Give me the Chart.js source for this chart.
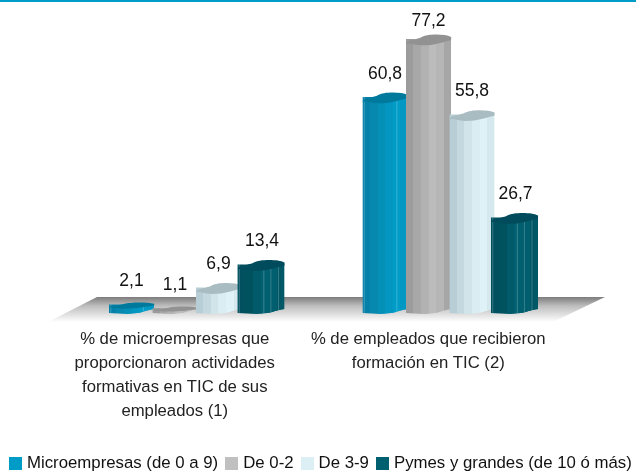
<!DOCTYPE html>
<html>
<head>
<meta charset="utf-8">
<style>
html, body { margin: 0; padding: 0; background: #fff; }
#wrap { width: 636px; height: 473px; position: relative; }
#legend { position: absolute; left: 9px; top: 454px; display: flex; gap: 7px; font: 16.8px "Liberation Sans", Arial, sans-serif; color: #111; white-space: nowrap; line-height: 18px; }
#legend span { display: flex; align-items: center; gap: 5px; }
#legend i { width: 13px; height: 13px; display: block; }
</style>
<script src="https://cdn.jsdelivr.net/npm/chart.js@4"></script>
</head>
<body>
<div id="wrap"><canvas id="myChart"></canvas><div id="legend"></div></div>
<script>
const categories = [
    ['% de microempresas que', 'proporcionaron actividades', 'formativas en TIC de sus', 'empleados (1)'],
    ['% de empleados que recibieron', 'formación en TIC (2)']
];
const seriesNames = ['Microempresas (de 0 a 9)', 'De 0-2', 'De 3-9', 'Pymes y grandes (de 10 ó más)'];
const micro = [2.1, 60.8];
const deZeroDos = [1.1, 77.2];
const deTresNueve = [6.9, 55.8];
const pymes = [13.4, 26.7];

const legendColors = ['#009cc8', '#c0c0c0', '#dceff5', '#006070'];
const capColors = ['#007a9c', '#929292', '#a9bcc2', '#004c5c'];
const stripes = [
    ['#0580a8', '#0788ae', '#0590b8', '#0396c0', '#009cc8', '#0098c2'],
    ['#9c9c9c', '#a8a8a8', '#b2b2b2', '#bcbcbc', '#b6b6b6', '#a6a6a6'],
    ['#b8ced6', '#c4d8df', '#d0e4ea', '#daedf3', '#def2f7', '#d4e8ee'],
    ['#005060', '#00525f', '#005a6a', '#006070', '#005e6e', '#005766']
];
const highlights = [[0.03, 0.75], [], [], [0.03, 0.55, 0.7, 0.86]];
const fontName = '"Liberation Sans", Arial, sans-serif';

seriesNames.forEach((name, i) => {
    const item = document.createElement('span');
    const box = document.createElement('i');
    box.style.background = legendColors[i];
    item.appendChild(box);
    item.appendChild(document.createTextNode(name));
    document.getElementById('legend').appendChild(item);
});

const cylinders = {
    id: 'cylinders',
    beforeDraw(chart) {
        const { ctx, width } = chart;
        ctx.fillStyle = '#009cc8';
        ctx.fillRect(0, 0, width, 2);
    },
    beforeDatasetsDraw(chart) {
        const { ctx, chartArea } = chart;
        const base = chart.scales.y.getPixelForValue(0);

        // floor
        const g = ctx.createLinearGradient(0, base - 16, 0, base + 9);
        g.addColorStop(0, '#7c7c7c');
        g.addColorStop(0.35, '#bdbdbd');
        g.addColorStop(1, '#ffffff');
        ctx.fillStyle = g;
        ctx.beginPath();
        ctx.moveTo(chartArea.left + 27, base - 16);
        ctx.lineTo(chartArea.right + 28, base - 16);
        ctx.lineTo(chartArea.right - 24, base + 9);
        ctx.lineTo(chartArea.left - 22, base + 9);
        ctx.closePath();
        ctx.fill();

        // later series sit on top of the earlier ones
        chart.data.datasets.forEach((ds, i) => {
            chart.getDatasetMeta(i).data.forEach((bar, j) => {
                const x1 = bar.x + bar.width * 0.52;
                const x0 = bar.x - bar.width * 0.52 - (i === 3 ? 2 : 0);
                const w = x1 - x0;
                const top = bar.y;
                const rise = Math.min(6, 2 + (base - top) * 0.2);

                ctx.save();
                ctx.beginPath();
                ctx.moveTo(x0, top - 1);
                ctx.lineTo(x1, top - 1);
                ctx.lineTo(x1, base - 4);
                ctx.bezierCurveTo(x1 - w * 0.2, base - 3, x1 - w * 0.3, base + 1, x0 + w * 0.4, base + 1);
                ctx.lineTo(x0, base);
                ctx.closePath();
                ctx.clip();
                bar.draw(ctx);
                const grad = ctx.createLinearGradient(x0, 0, x1, 0);
                stripes[i].forEach((c, k) => {
                    grad.addColorStop(k / stripes[i].length, c);
                    grad.addColorStop((k + 1) / stripes[i].length, c);
                });
                ctx.fillStyle = grad;
                ctx.fillRect(x0, top - 2, w, base - top + 6);
                ctx.fillStyle = 'rgba(255, 255, 255, 0.22)';
                highlights[i].forEach(f => {
                    ctx.fillRect(x0 + w * f, top - 2, 1, base - top + 6);
                });
                ctx.restore();

                // wavy cap
                ctx.fillStyle = capColors[i];
                ctx.beginPath();
                ctx.moveTo(x0, top + rise * 0.6);
                ctx.bezierCurveTo(x0 + w * 0.05, top - rise * 0.2, x0 + w * 0.25, top, x0 + w * 0.35, top - rise * 0.5);
                ctx.bezierCurveTo(x0 + w * 0.45, top - rise, x0 + w * 0.85, top - rise * 1.1, x1, top - rise * 0.5);
                ctx.lineTo(x1, top);
                ctx.bezierCurveTo(x1 - w * 0.2, top + rise * 0.4, x1 - w * 0.35, top + rise * 0.9, x0 + w * 0.35, top + rise * 0.9);
                ctx.bezierCurveTo(x0 + w * 0.2, top + rise * 0.9, x0 + w * 0.1, top + rise * 0.5, x0, top + rise * 0.6);
                ctx.closePath();
                ctx.fill();

                // value label
                ctx.fillStyle = '#111';
                ctx.font = '17.5px ' + fontName;
                ctx.textAlign = 'center';
                ctx.textBaseline = 'middle';
                ctx.fillText(String(ds.data[j]).replace('.', ','), bar.x, Math.max(top - 24, 21));
            });
        });
        return false;
    }
};

const seriesValues = [micro, deZeroDos, deTresNueve, pymes];

new Chart(document.getElementById('myChart').getContext('2d'), {
    type: 'bar',
    data: {
        labels: categories,
        datasets: seriesNames.map((name, i) => ({
            label: name,
            data: seriesValues[i],
            backgroundColor: legendColors[i],
            borderWidth: 0,
            categoryPercentage: 0.686,
            barPercentage: 1
        }))
    },
    options: {
        responsive: true,
        maintainAspectRatio: false,
        animation: false,
        layout: {
            padding: { top: 30, left: 0, right: 0, bottom: 30 }
        },
        scales: {
            x: {
                grid: { display: false },
                border: { display: false },
                afterFit: scale => {
                    scale.height = 130;
                    // category text sits left of the bar groups
                    if (!scale.labelShift) {
                        const tickPixel = scale.getPixelForTick.bind(scale);
                        scale.getPixelForTick = i => tickPixel(i) - 22;
                        scale.labelShift = true;
                    }
                },
                ticks: {
                    color: '#222',
                    padding: 6,
                    maxRotation: 0,
                    autoSkip: false,
                    font: { family: fontName, size: 16.7, lineHeight: 1.45 }
                }
            },
            y: {
                min: 0,
                max: 80,
                grid: { display: false },
                border: { display: false },
                ticks: { display: false },
                afterFit: scale => { scale.width = 70; }
            },
            yRight: {
                position: 'right',
                min: 0,
                max: 80,
                grid: { display: false },
                border: { display: false },
                ticks: { display: false },
                afterFit: scale => { scale.width = 59; }
            }
        },
        plugins: {
            tooltip: { enabled: false },
            legend: { display: false }
        }
    },
    plugins: [cylinders]
});
</script>
</body>
</html>
